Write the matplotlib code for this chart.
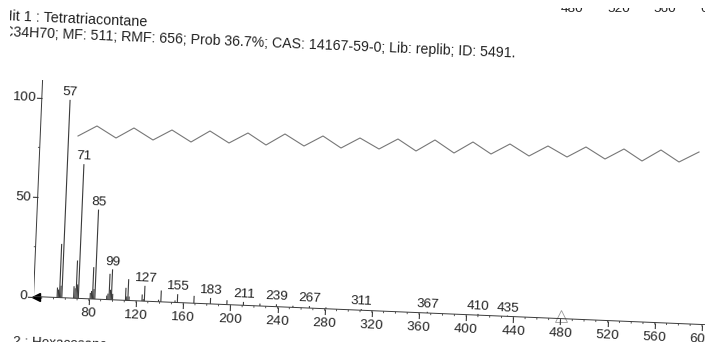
import matplotlib
matplotlib.use("Agg")
import matplotlib.pyplot as plt
from matplotlib.patches import Rectangle
from matplotlib.transforms import Affine2D
from mpl_toolkits.axisartist.floating_axes import FloatingAxes, GridHelperCurveLinear
from mpl_toolkits.axisartist.grid_finder import FixedLocator
import numpy as np

plt.rcParams['font.family'] = ['Liberation Sans', 'DejaVu Sans']

# peaks
mz = [53, 54, 55, 56, 57, 67, 68, 69, 70, 71, 81, 82, 83, 84, 85, 95, 96, 97, 98, 99, 100,
      111, 112, 113, 114, 125, 126, 127, 139, 141, 153, 155, 169, 183, 197, 211, 225, 239,
      253, 267, 281, 311, 367, 410, 435]
intensity = [5, 4, 27, 6, 99.5, 6, 5, 19, 7, 67.5, 3, 4, 16, 5, 45, 2, 3, 13, 5, 15.3, 3,
             6.3, 2, 10.7, 2, 3.3, 1, 7.7, 1, 5.7, 1, 4.2, 3.7, 3, 2.2, 1.7, 1.2, 1.2,
             0.8, 1, 0.7, 0.6, 0.6, 0.6, 0.4]
labelled = [57, 71, 85, 99, 127, 155, 183, 211, 239, 267, 311, 367, 410, 435]

x_ticks = [80, 120, 160, 200, 240, 280, 320, 360, 400, 440, 480, 520, 560, 600]
x_minor = list(range(40, 611, 10))
y_ticks = [0, 50, 100]
y_minor = [25, 75]

# chain drawn over the spectrum
chain_x = [78, 97, 116, 134, 153, 172, 191, 210, 229, 248, 266, 285, 304, 323, 341, 360, 379,
           398, 416, 435, 454, 473, 491, 510, 529, 548, 567, 586, 605, 624, 642, 661, 679, 699]
chain_y = [136, 126, 138, 128, 140, 130, 142, 131, 143, 133, 145, 134, 146, 136, 148, 138, 149,
           139, 151, 140, 153, 142, 154, 144, 156, 146, 157, 147, 159, 149, 161, 150, 162, 152]

title1 = "Hit 1 : Tetratriacontane"
title2 = "C34H70; MF: 511; RMF: 656; Prob 36.7%; CAS: 14167-59-0; Lib: replib; ID: 5491."
next_hit = "2 : Hexacosane"
prev_ticks = ["480", "520", "560", "600"]

W, H = 705, 342
ink = "#3a3a3a"
tilt = -2.4
x0, x1, y0, y1 = 33, 612, 0, 109

fig = plt.figure(figsize=(W / 100, H / 100), dpi=100, facecolor="white")

# scanned page is slightly rotated, so use a floating axes
tr = Affine2D().scale(1.18, 1.99).rotate_deg(tilt)
corners = tr.transform([(x0, y0), (x1, y0), (x0, y1), (x1, y1)])
left, bottom = corners.min(axis=0)
right, top = corners.max(axis=0)
ox, oy = tr.transform((x0, y0))
px0 = 33.5 - (ox - left)          # pixel of the box's left edge
py0 = (H - 296.5) - (oy - bottom) # pixel of the box's bottom edge
rect = [px0 / W, py0 / H, (right - left) / W, (top - bottom) / H]

helper = GridHelperCurveLinear(
    tr, extremes=(x0, x1, y0, y1),
    grid_locator1=FixedLocator(x_ticks),
    grid_locator2=FixedLocator(y_ticks))
ax = FloatingAxes(fig, rect, grid_helper=helper)
fig.add_axes(ax)
ax.set_xlim(left, right)
ax.set_ylim(bottom, top)
ax.patch.set_visible(False)
aux = ax.get_aux_axes(tr)

ax.axis["top"].set_visible(False)
ax.axis["right"].set_visible(False)
for side in ["left", "bottom"]:
    a = ax.axis[side]
    a.line.set_color(ink)
    a.line.set_linewidth(0.7)
    a.major_ticks.set_color(ink)
    a.major_ticks.set_tick_out(True)
    a.major_ticks.set_ticksize(4)
    a.major_ticklabels.set_color("#222222")
    a.major_ticklabels.set_fontsize(9.7)
ax.axis["bottom"].major_ticklabels.set_pad(1)
ax.axis["left"].major_ticklabels.set_pad(0)

aux.vlines(mz, 0, intensity, color=ink, lw=0.8, clip_on=False)
aux.vlines(x_minor, -1.0, 0, color=ink, lw=0.6, clip_on=False)
aux.hlines(y_minor, x0 - 1.5, x0, color=ink, lw=0.6, clip_on=False)

# base marker and precursor marker
aux.plot([x0 + 2], [0], marker="<", color="black", ms=6, clip_on=False)
aux.plot([480], [1.5], marker="^", mfc="none", mec="#999999", ms=8, mew=0.6, clip_on=False)

height = dict(zip(mz, intensity))
for m in labelled:
    ax.annotate(str(m), xy=(m, height[m]), xycoords=aux.transData, xytext=(0, 1),
                textcoords="offset points", ha="center", va="bottom",
                rotation=tilt, rotation_mode="anchor", fontsize=9.7, color="#222222",
                annotation_clip=False)

# overlay in image pixels for the chain and page text
over = fig.add_axes([0, 0, 1, 1], facecolor="none")
over.set_xlim(0, W)
over.set_ylim(H, 0)
over.axis("off")
over.plot(chain_x, chain_y, color="#777777", lw=0.8)

over.text(2, 16, title1, fontsize=10.4, rotation=-2.5, rotation_mode="anchor",
          va="center", color="#222222")
over.text(3, 32, title2, fontsize=10.2, rotation=-2.4, rotation_mode="anchor",
          va="center", color="#222222")
over.text(13, 336, next_hit, fontsize=9.7, rotation=-2, rotation_mode="anchor",
          va="top", color="#222222")
for s, px in zip(prev_ticks, [572, 619, 665, 712]):
    over.text(px, 15, s, fontsize=9.7, ha="center", va="bottom", color="#222222", clip_on=True)

# edges of the page crop
over.add_patch(Rectangle((0, 0), 10, 50, fc="white", ec="none", zorder=5))
over.add_patch(Rectangle((500, 0), 205, 8, fc="white", ec="none", zorder=5))

fig.savefig("out.png", dpi=100)
